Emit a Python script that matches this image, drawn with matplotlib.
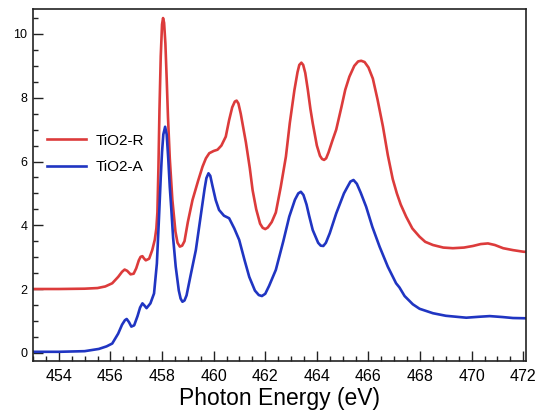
import numpy as np
import matplotlib
matplotlib.use("Agg")
import matplotlib.pyplot as plt
from matplotlib.ticker import MultipleLocator

# Ti L-edge spectra (photon energy in eV, intensity a.u.)
energy_r = [453.0, 454.0, 455.0, 455.5, 455.8, 456.07, 456.3, 456.45, 456.55, 456.65,
            456.78, 456.9, 457.0, 457.1, 457.17, 457.24, 457.3, 457.37, 457.5, 457.62,
            457.72, 457.78, 457.82, 457.86, 457.9, 457.95, 458.0, 458.04, 458.08, 458.13,
            458.18, 458.23, 458.3, 458.4, 458.52, 458.6, 458.69, 458.78, 458.87, 459.0,
            459.18, 459.4, 459.57, 459.7, 459.83, 460.0, 460.15, 460.3, 460.47, 460.6,
            460.72, 460.82, 460.89, 460.96, 461.05, 461.15, 461.25, 461.4, 461.51, 461.65,
            461.8, 461.9, 462.0, 462.1, 462.25, 462.41, 462.6, 462.8, 462.95, 463.13,
            463.25, 463.32, 463.4, 463.47, 463.55, 463.65, 463.75, 463.84, 464.0, 464.12,
            464.2, 464.28, 464.36, 464.45, 464.6, 464.75, 464.95, 465.1, 465.26, 465.45,
            465.6, 465.72, 465.85, 466.0, 466.17, 466.35, 466.56, 466.75, 466.94, 467.1,
            467.25, 467.46, 467.7, 467.98, 468.2, 468.5, 468.9, 469.27, 469.7, 470.05,
            470.35, 470.63, 470.9, 471.22, 471.6, 472.0, 472.2]
tio2_r = [2.00, 2.00, 2.01, 2.03, 2.08, 2.18, 2.38, 2.54, 2.61, 2.57,
          2.46, 2.48, 2.65, 2.90, 3.01, 3.03, 2.96, 2.90, 2.95, 3.22,
          3.55, 3.90, 4.40, 5.80, 7.60, 9.30, 10.30, 10.50, 10.35, 9.70,
          8.60, 7.40, 6.10, 4.80, 3.80, 3.45, 3.33, 3.36, 3.50, 4.10,
          4.79, 5.40, 5.84, 6.10, 6.26, 6.33, 6.37, 6.50, 6.78, 7.30,
          7.70, 7.88, 7.91, 7.82, 7.50, 7.05, 6.60, 5.80, 5.10, 4.50,
          4.05, 3.92, 3.88, 3.93, 4.10, 4.40, 5.20, 6.15, 7.20, 8.24,
          8.80, 9.03, 9.10, 9.03, 8.78, 8.25, 7.65, 7.20, 6.50, 6.18,
          6.08, 6.05, 6.10, 6.28, 6.65, 7.00, 7.70, 8.25, 8.66, 9.00,
          9.14, 9.16, 9.12, 8.95, 8.60, 7.95, 7.10, 6.20, 5.45, 5.00,
          4.65, 4.27, 3.90, 3.64, 3.48, 3.38, 3.30, 3.28, 3.30, 3.35,
          3.41, 3.43, 3.38, 3.28, 3.22, 3.17, 3.16]

energy_a = [453.0, 454.0, 455.0, 455.55, 455.85, 456.07, 456.3, 456.45, 456.56, 456.63,
            456.72, 456.81, 456.92, 457.05, 457.15, 457.24, 457.32, 457.4, 457.55, 457.69,
            457.8, 457.88, 457.95, 458.0, 458.05, 458.12, 458.18, 458.24, 458.3, 458.36,
            458.43, 458.53, 458.65, 458.72, 458.79, 458.87, 458.95, 459.1, 459.31, 459.5,
            459.65, 459.72, 459.8, 459.87, 459.95, 460.08, 460.21, 460.4, 460.6, 460.8,
            460.99, 461.2, 461.38, 461.6, 461.75, 461.87, 462.0, 462.15, 462.41, 462.7,
            462.93, 463.15, 463.28, 463.38, 463.48, 463.6, 463.7, 463.84, 464.05, 464.15,
            464.25, 464.35, 464.5, 464.75, 465.05, 465.17, 465.3, 465.42, 465.55, 465.7,
            465.91, 466.15, 466.43, 466.75, 467.07, 467.2, 467.4, 467.72, 467.98, 468.5,
            469.0, 469.79, 470.3, 470.7, 471.2, 471.6, 472.2]
tio2_a = [0.03, 0.03, 0.05, 0.12, 0.20, 0.29, 0.60, 0.88, 1.02, 1.06,
          0.96, 0.82, 0.86, 1.15, 1.42, 1.55, 1.48, 1.40, 1.55, 1.86,
          2.80, 4.20, 5.50, 6.30, 6.85, 7.09, 6.85, 6.10, 5.20, 4.50,
          3.60, 2.70, 1.95, 1.70, 1.60, 1.64, 1.80, 2.40, 3.22, 4.30,
          5.15, 5.48, 5.63, 5.55, 5.25, 4.79, 4.48, 4.30, 4.22, 3.90,
          3.54, 2.90, 2.38, 1.95, 1.81, 1.78, 1.85, 2.10, 2.60, 3.50,
          4.27, 4.80, 5.00, 5.05, 4.95, 4.65, 4.30, 3.85, 3.45, 3.36,
          3.35, 3.45, 3.75, 4.37, 5.00, 5.18, 5.37, 5.42, 5.30, 5.02,
          4.58, 3.95, 3.33, 2.70, 2.18, 2.05, 1.78, 1.52, 1.38, 1.24,
          1.16, 1.10, 1.13, 1.15, 1.12, 1.09, 1.08]

plt.rcParams['font.family'] = ['Liberation Sans', 'DejaVu Sans']

fig = plt.figure(figsize=(5.36, 4.15), dpi=100)
ax = fig.add_axes([0.0616, 0.130, 0.9195, 0.848])

ax.plot(energy_r, tio2_r, color='#dc3b3b', lw=1.9, label='TiO2-R', solid_joinstyle='round')
ax.plot(energy_a, tio2_a, color='#2035c2', lw=1.9, label='TiO2-A', solid_joinstyle='round')

ax.set_xlim(453.0, 472.1)
ax.set_ylim(-0.26, 10.78)
ax.xaxis.set_major_locator(MultipleLocator(2))
ax.xaxis.set_minor_locator(MultipleLocator(0.5))
ax.yaxis.set_major_locator(MultipleLocator(2))
ax.yaxis.set_minor_locator(MultipleLocator(0.5))
ax.tick_params(which='both', direction='in', top=False, right=False, color='#222222', width=1.0)
ax.tick_params(which='major', length=7)
ax.tick_params(which='minor', length=3.5)
ax.tick_params(axis='x', labelsize=11.5, pad=6)
ax.tick_params(axis='y', labelsize=9, pad=4)
for sp in ax.spines.values():
    sp.set_linewidth(1.2)
    sp.set_color('#222222')

ax.set_xlabel('Photon Energy (eV)', fontsize=16.5, labelpad=2)

ax.legend(loc='upper left', bbox_to_anchor=(0.0, 0.685), frameon=False,
          fontsize=11, handlelength=2.6, handletextpad=0.6, labelspacing=0.8)

fig.savefig('out.png', dpi=100)
